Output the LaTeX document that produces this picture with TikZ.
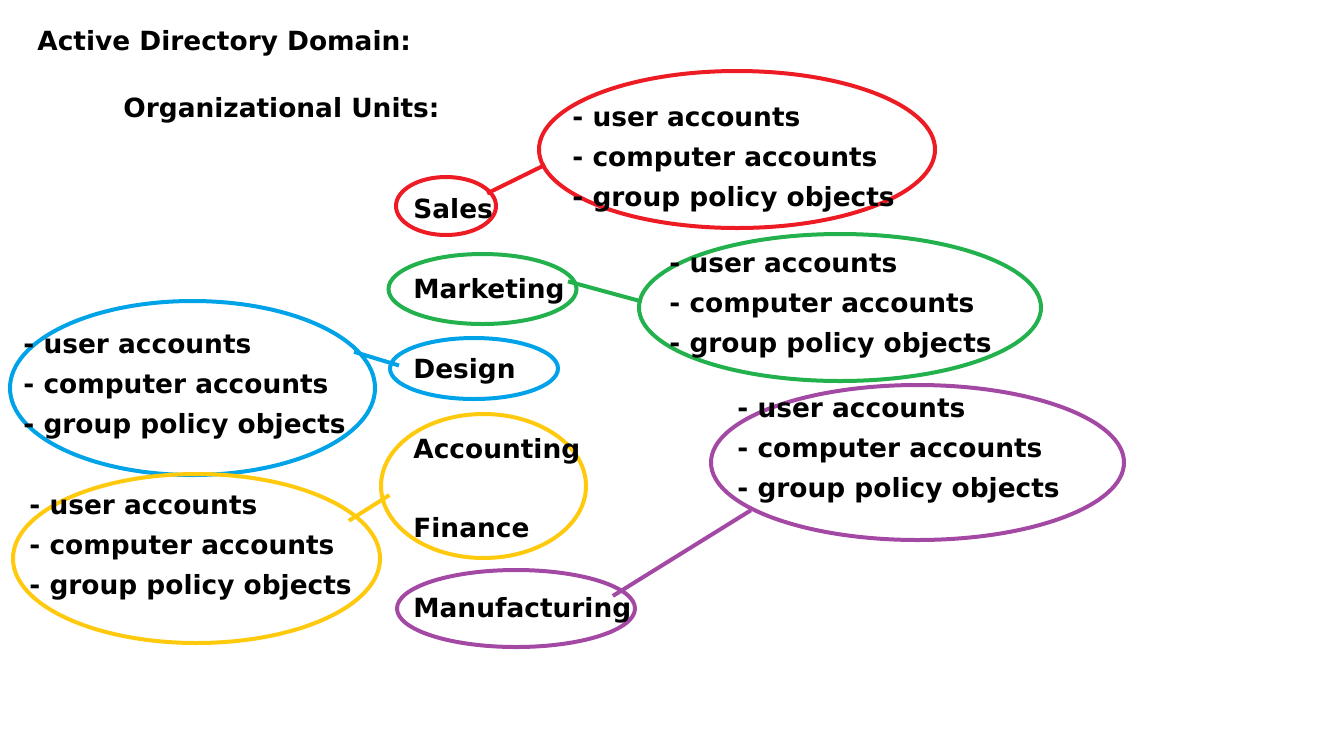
\documentclass[tikz,border=0pt]{standalone}
\usepackage{fontspec}
\setmainfont{DejaVu Sans}
\usetikzlibrary{shapes.geometric}
\definecolor{paintred}{RGB}{237,28,36}
\definecolor{paintgreen}{RGB}{34,177,76}
\definecolor{paintblue}{RGB}{0,162,232}
\definecolor{paintyellow}{RGB}{255,201,14}
\definecolor{paintpurple}{RGB}{163,73,164}

\begin{document}
\begin{tikzpicture}[x=0.5pt,y=-0.5pt,
    ring/.style={draw, ellipse, line width=2pt, inner sep=0pt},
    txt/.style={anchor=base west, inner sep=0pt, text=black,
      font=\fontsize{13.2}{16}\selectfont\bfseries},
    link/.style={line width=2pt}]
\useasboundingbox (0,0) rectangle (1319,741);

% Organizational units
\node[ring, paintred, minimum width=50pt, minimum height=29pt] (salesOU) at (446,206) {};
\node[ring, paintgreen, minimum width=94pt, minimum height=35pt] (marketingOU) at (482.5,289) {};
\node[ring, paintblue, minimum width=84pt, minimum height=30.5pt] (designOU) at (474,368.5) {};
\node[ring, paintyellow, minimum width=102.5pt, minimum height=72pt] (accfinOU) at (483.5,486) {};
\node[ring, paintpurple, minimum width=119pt, minimum height=38.5pt] (mfgOU) at (516,608.5) {};

% Contents of each unit
\node[ring, paintred, minimum width=198pt, minimum height=78.5pt] (salesObj) at (737,149.5) {};
\node[ring, paintgreen, minimum width=201pt, minimum height=73.5pt] (marketingObj) at (840,307.5) {};
\node[ring, paintblue, minimum width=182.5pt, minimum height=87pt] (designObj) at (192.5,388) {};
\node[ring, paintyellow, minimum width=183.5pt, minimum height=84.5pt] (accfinObj) at (196.5,558.5) {};
\node[ring, paintpurple, minimum width=206.5pt, minimum height=77.5pt] (mfgObj) at (917.5,462.5) {};

% Links
\draw[link, paintred, shorten <=-2.5pt, shorten >=-2pt] (salesOU.18) -- (salesObj.185);
\draw[link, paintgreen, shorten <=-5pt, shorten >=-2pt] (marketingOU.3) -- (marketingObj.178);
\draw[link, paintblue, shorten <=-5pt, shorten >=-5pt] (designObj.11) -- (designOU.176);
\draw[link, paintyellow, shorten <=-5pt, shorten >=-5pt] (accfinObj.15) -- (accfinOU.188);
\draw[link, paintpurple, shorten <=-6pt] (mfgOU.10) -- (mfgObj.196);

% Headings
\node[txt] (domain) at (37,50) {Active Directory Domain:};
\node[txt] (units) at (123,117) {Organizational Units:};

% Unit names
\node[txt] (sales) at (413,218) {Sales};
\node[txt] (marketing) at (413,298) {Marketing};
\node[txt] (design) at (413,378) {Design};
\node[txt] (accounting) at (413,458) {Accounting};
\node[txt] (finance) at (413,537) {Finance};
\node[txt] (manufacturing) at (413,617) {Manufacturing};

% Object lists
\foreach \grp/\x/\y in {sales/572/126, marketing/669/272, design/23/353,
    accfin/29/514, mfg/737/417} {
  \node[txt] (\grp1) at (\x,\y) {- user accounts};
  \node[txt] (\grp2) at (\x,\y+40) {- computer accounts};
  \node[txt] (\grp3) at (\x,\y+80) {- group policy objects};
}

\end{tikzpicture}
\end{document}
